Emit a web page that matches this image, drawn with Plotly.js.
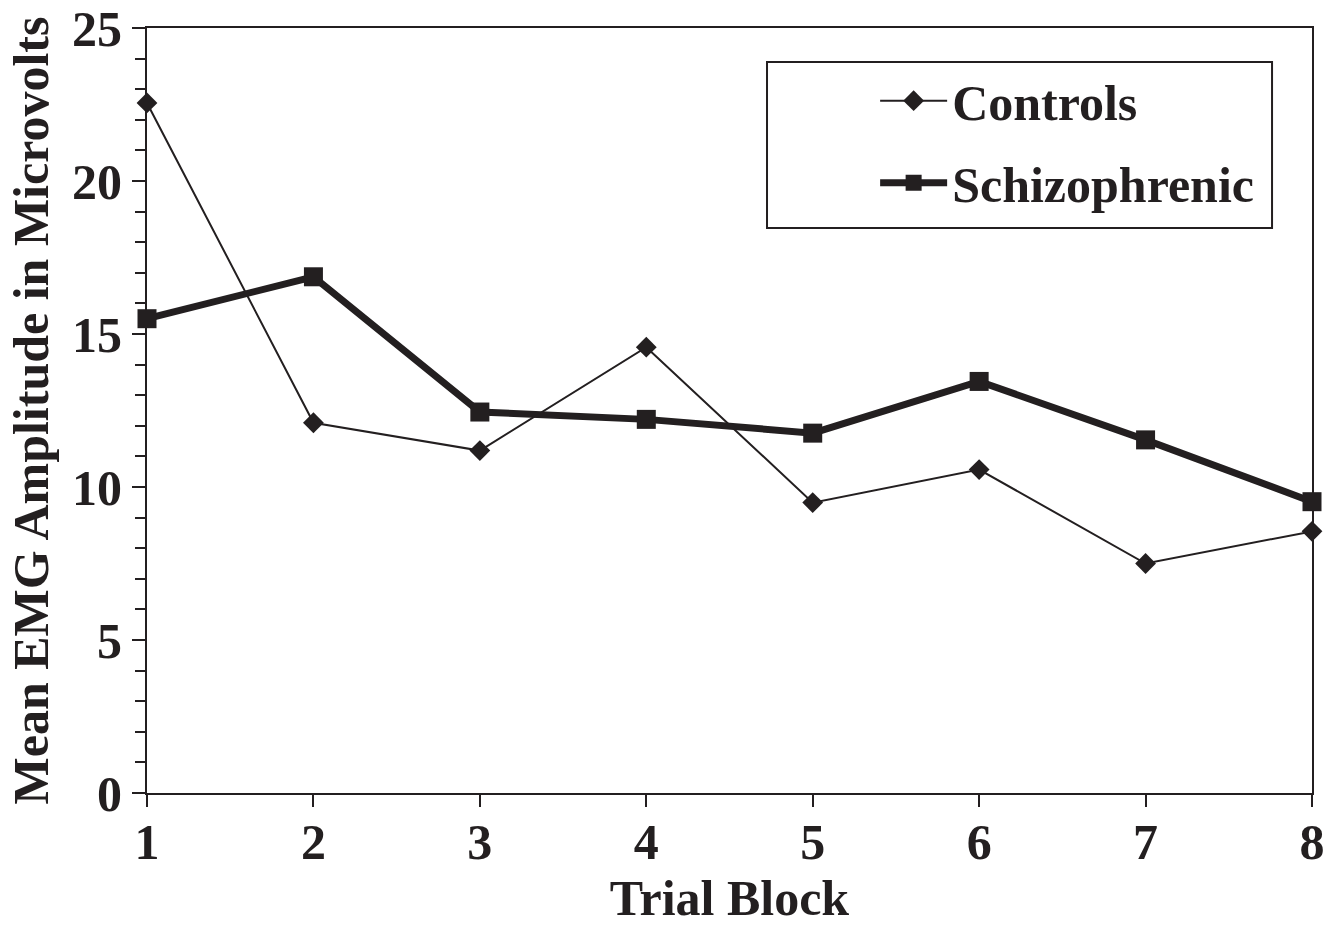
<!DOCTYPE html>
<html>
<head>
<meta charset="utf-8">
<script src="https://cdn.plot.ly/plotly-3.0.1.min.js"></script>
<style>html,body{margin:0;padding:0;background:#fff;}#chart{width:1342px;height:926px;}</style>
</head>
<body>
<div id="chart"></div>
<script>
const trialBlocks = [1, 2, 3, 4, 5, 6, 7, 8];
const controls = [22.55, 12.1, 11.19, 14.57, 9.49, 10.57, 7.5, 8.55];
const schizophrenic = [15.5, 16.87, 12.45, 12.21, 11.76, 13.45, 11.54, 9.52];
const seriesNames = ['Controls', 'Schizophrenic'];
const xTitle = 'Trial Block';
const yTitle = 'Mean EMG Amplitude in Microvolts';

const ink = '#231f20';
const fontFamily = '"Liberation Serif", "Times New Roman", Times, serif';
const fontSize = 50;
const textFont = {family: fontFamily, size: fontSize, color: ink, weight: 700};

const traces = [
  {
    x: trialBlocks, y: controls, name: seriesNames[0], type: 'scatter', mode: 'lines+markers',
    legendgroup: 'g1',
    line: {color: ink, width: 2},
    marker: {symbol: 'diamond', size: 16, color: ink},
    cliponaxis: false
  },
  {
    x: trialBlocks, y: schizophrenic, name: seriesNames[1], type: 'scatter', mode: 'lines+markers',
    legendgroup: 'g2',
    line: {color: ink, width: 7},
    marker: {symbol: 'square', size: 19, color: ink},
    cliponaxis: false
  }
];

const layout = {
  width: 1342, height: 926,
  margin: {l: 147, r: 30, t: 28, b: 133, pad: 0},
  paper_bgcolor: '#ffffff', plot_bgcolor: '#ffffff',
  font: textFont,
  showlegend: true,
  legend: {
    x: 0.625, y: 0.956, xanchor: 'left', yanchor: 'top',
    bgcolor: 'rgba(0,0,0,0)', borderwidth: 0,
    font: textFont,
    itemwidth: 67, traceorder: 'grouped', tracegroupgap: 14
  },
  shapes: [{
    type: 'rect', xref: 'paper', yref: 'paper',
    x0: 0.5322, x1: 0.9657, y0: 0.7386, y1: 0.9556,
    line: {color: ink, width: 2}, fillcolor: 'rgba(0,0,0,0)', layer: 'above'
  }],
  xaxis: {
    range: [1, 8], tickvals: trialBlocks, ticktext: trialBlocks.map(String),
    showline: true, linecolor: ink, linewidth: 2, mirror: true,
    ticks: 'outside', ticklen: 12, tickwidth: 2, tickcolor: ink,
    ticklabelstandoff: -8,
    showgrid: false, zeroline: false,
    tickfont: textFont,
    title: {text: xTitle, font: textFont, standoff: 22}
  },
  yaxis: {
    range: [0, 25], dtick: 5, tick0: 0,
    showline: true, linecolor: ink, linewidth: 2, mirror: true,
    ticks: 'outside', ticklen: 13, tickwidth: 2, tickcolor: ink,
    minor: {dtick: 1, ticks: 'outside', ticklen: 10, tickwidth: 2, tickcolor: ink, showgrid: false},
    showgrid: false, zeroline: false,
    tickfont: textFont,
    title: {text: yTitle, font: textFont, standoff: 8}
  }
};

Plotly.newPlot('chart', traces, layout, {displayModeBar: false, staticPlot: true});
</script>
</body>
</html>
